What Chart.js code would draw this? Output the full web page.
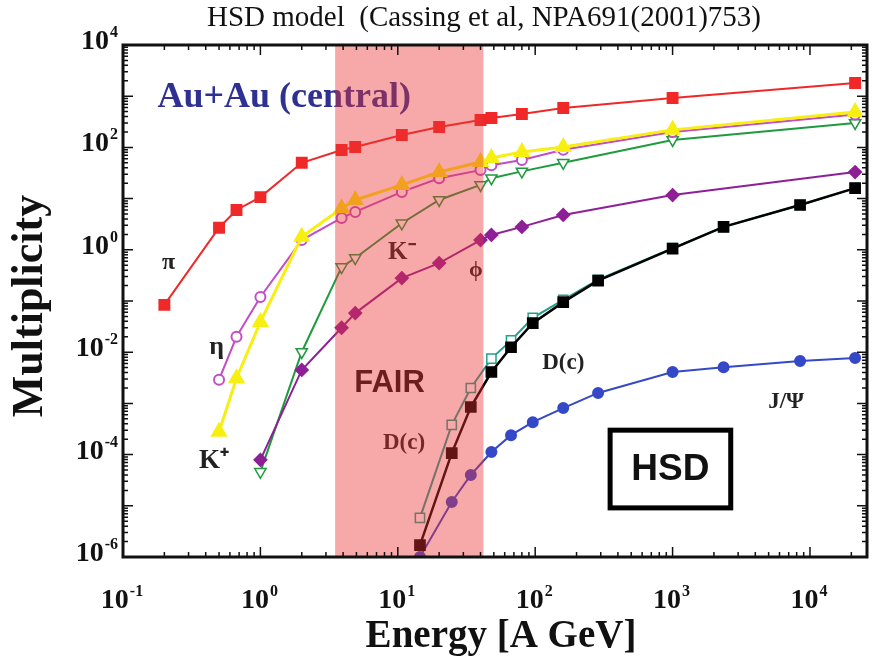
<!DOCTYPE html>
<html lang="en">
<head>
    <meta charset="UTF-8">
    <title>HSD model - Multiplicity vs Energy</title>
    <script src="https://cdn.jsdelivr.net/npm/chart.js"></script>
    <style>
        body { margin: 0; padding: 0; background: #fff; }
        canvas { display: block; }
    </style>
</head>
<body>
    <canvas id="grafico" width="877" height="660"></canvas>

    <script>
        // Datos (energia en A GeV, multiplicidad)
        const pionE = [0.2, 0.5, 0.67, 1, 2, 3.9, 4.9, 10.7, 20, 40, 48, 80, 160, 1000, 21300];
        const pionM = [0.084, 2.7, 6.0, 10.7, 50, 89, 102, 175, 250, 343, 375, 450, 590, 920, 1810];

        const kPlusE = [0.5, 0.67, 1, 2, 3.9, 4.9, 10.7, 20, 40, 48, 80, 160, 1000, 21300];
        const kPlusM = [2.8e-4, 3.1e-3, 0.039, 1.8, 6.5, 9.4, 18.5, 33, 52, 62, 81, 102, 220, 490];

        const etaE = [0.5, 0.67, 1, 2, 3.9, 4.9, 10.7, 20, 40, 48, 80, 160, 1000, 21300];
        const etaM = [2.9e-3, 0.02, 0.12, 1.55, 4.2, 5.5, 13.5, 25, 36, 45, 57, 90, 200, 440];

        const kMinusE = [1, 2, 3.9, 4.9, 10.7, 20, 40, 48, 80, 160, 1000, 21300];
        const kMinusM = [4.6e-5, 0.0101, 0.46, 0.69, 3.3, 9.4, 18.5, 25, 34, 50, 140, 300];

        const phiE = [1, 2, 3.9, 4.9, 10.7, 20, 40, 48, 80, 160, 1000, 21300];
        const phiM = [7.9e-5, 4.5e-3, 0.030, 0.058, 0.28, 0.55, 1.55, 1.95, 2.8, 4.8, 11.7, 33];

        const charmE = [14.5, 24.7, 34, 48, 66.7, 96, 160, 287, 1000, 2350, 8470, 21300];
        const dOpenM = [5.8e-6, 3.8e-4, 2.0e-3, 7.5e-3, 0.017, 0.047, 0.105, 0.26, 1.08, 2.8, 7.5, 16];
        const dFullM = [1.7e-6, 1.07e-4, 8.5e-4, 4.1e-3, 0.0125, 0.037, 0.095, 0.25, 1.05, 2.8, 7.5, 16];
        const jpsiM = [1.0e-6, 1.19e-5, 4.0e-5, 1.12e-4, 2.4e-4, 4.3e-4, 8.1e-4, 1.6e-3, 4.1e-3, 5.1e-3, 6.7e-3, 7.7e-3];

        // Ticks: base 10 con exponente
        const xTickValues = [0.1, 1, 10, 100, 1000, 10000];
        const xTickExp = ["-1", "0", "1", "2", "3", "4"];
        const yTickValues = [1e-6, 1e-4, 1e-2, 1, 1e2, 1e4];
        const yTickExp = ["-6", "-4", "-2", "0", "2", "4"];

        // Region FAIR (A GeV)
        const fairRange = [3.5, 42];

        // Etiquetas dentro del grafico (coordenadas en unidades de datos)
        const etiquetas = [
            { text: "Au+Au (central)", x: 0.178, y: 950, font: "bold 36px 'Liberation Serif'", color: "#2e3192", align: "left" },
            { text: "π", x: 0.215, y: 0.55, font: "bold 24px 'Liberation Serif'", color: "#222" },
            { text: "η", x: 0.48, y: 0.0125, font: "bold 26px 'Liberation Serif'", color: "#222" },
            { text: "K⁺", x: 0.46, y: 7.5e-5, font: "bold 27px 'Liberation Serif'", color: "#222" },
            { text: "K⁻", x: 10.7, y: 0.9, font: "bold 25px 'Liberation Serif'", color: "#222" },
            { text: "ϕ", x: 37, y: 0.4, font: "bold 22px 'Liberation Serif'", color: "#222" },
            { text: "FAIR", x: 8.7, y: 2.5e-3, font: "bold 31px 'Liberation Sans'", color: "#111" },
            { text: "D(c)", x: 11.1, y: 1.7e-4, font: "bold 23px 'Liberation Serif'", color: "#222" },
            { text: "D(c)", x: 160, y: 6.2e-3, font: "bold 23px 'Liberation Serif'", color: "#222" },
            { text: "J/Ψ", x: 6700, y: 1.05e-3, font: "bold 23px 'Liberation Serif'", color: "#222" }
        ];

        function puntos(xs, ys) {
            return xs.map((x, i) => ({ x: x, y: ys[i] }));
        }

        // dibuja "10" con exponente pequeño
        function potencia(ctx, exp, x, y, anchor) {
            ctx.font = "bold 28px 'Liberation Serif'";
            const wb = ctx.measureText("10").width;
            ctx.font = "bold 16px 'Liberation Serif'";
            const we = ctx.measureText(exp).width;
            const total = wb + 1 + we;
            const x0 = anchor === "right" ? x - total : x - total / 2;
            ctx.textAlign = "left";
            ctx.textBaseline = "alphabetic";
            ctx.font = "bold 28px 'Liberation Serif'";
            ctx.fillText("10", x0, y);
            ctx.font = "bold 16px 'Liberation Serif'";
            ctx.fillText(exp, x0 + wb + 1, y - 12);
        }

        // Texto, ejes y region sombreada
        const anotaciones = {
            id: "anotaciones",
            afterDatasetsDraw(chart) {
                const ctx = chart.ctx;
                const xs = chart.scales.x, ys = chart.scales.y;
                const area = chart.chartArea;
                ctx.save();
                ctx.textBaseline = "middle";
                etiquetas.forEach(e => {
                    ctx.font = e.font;
                    ctx.fillStyle = e.color;
                    ctx.textAlign = e.align || "center";
                    ctx.fillText(e.text, xs.getPixelForValue(e.x), ys.getPixelForValue(e.y));
                });

                // Recuadro HSD
                const bx1 = xs.getPixelForValue(351), bx2 = xs.getPixelForValue(2650);
                const by1 = ys.getPixelForValue(3.0e-4), by2 = ys.getPixelForValue(9.1e-6);
                ctx.lineWidth = 5;
                ctx.strokeStyle = "#000";
                ctx.strokeRect(bx1, by1, bx2 - bx1, by2 - by1);
                ctx.font = "bold 37px 'Liberation Sans'";
                ctx.fillStyle = "#111";
                ctx.textAlign = "center";
                ctx.fillText("HSD", (bx1 + bx2) / 2, (by1 + by2) / 2 + 1);

                // Banda FAIR semitransparente
                const fx1 = xs.getPixelForValue(fairRange[0]);
                const fx2 = xs.getPixelForValue(fairRange[1]);
                ctx.fillStyle = "rgba(235, 50, 50, 0.42)";
                ctx.fillRect(fx1, area.top, fx2 - fx1, area.bottom - area.top);

                // Marco
                ctx.lineWidth = 3;
                ctx.strokeStyle = "#111";
                ctx.strokeRect(area.left, area.top, area.right - area.left, area.bottom - area.top);

                // Marcas hacia adentro
                ctx.lineWidth = 1.5;
                ctx.beginPath();
                for (let d = -1; d <= 4; d++) {
                    for (let k = 1; k <= 9; k++) {
                        const v = k * Math.pow(10, d);
                        if (v > xs.max) break;
                        const px = xs.getPixelForValue(v);
                        const len = k === 1 ? 10 : 5;
                        ctx.moveTo(px, area.bottom); ctx.lineTo(px, area.bottom - len);
                        ctx.moveTo(px, area.top); ctx.lineTo(px, area.top + len);
                    }
                }
                for (let d = -6; d <= 4; d++) {
                    for (let k = 1; k <= 9; k++) {
                        const v = k * Math.pow(10, d);
                        if (v > ys.max) break;
                        const py = ys.getPixelForValue(v);
                        const len = k === 1 ? 10 : 5;
                        ctx.moveTo(area.left, py); ctx.lineTo(area.left + len, py);
                        ctx.moveTo(area.right, py); ctx.lineTo(area.right - len, py);
                    }
                }
                ctx.stroke();

                // Etiquetas de los ejes
                ctx.fillStyle = "#111";
                xTickValues.forEach((v, i) => potencia(ctx, xTickExp[i], xs.getPixelForValue(v) - 1, 608, "center"));
                yTickValues.forEach((v, i) => potencia(ctx, yTickExp[i], area.left - 5, ys.getPixelForValue(v) + 4, "right"));

                // Titulos de los ejes
                ctx.textAlign = "center";
                ctx.textBaseline = "alphabetic";
                ctx.font = "bold 39px 'Liberation Serif'";
                ctx.fillText("Energy [A GeV]", 501, 647);
                ctx.save();
                ctx.translate(42, 306);
                ctx.rotate(-Math.PI / 2);
                ctx.font = "bold 44px 'Liberation Serif'";
                ctx.fillText("Multiplicity", 0, 0);
                ctx.restore();

                // Titulo
                ctx.font = "29px 'Liberation Serif'";
                ctx.textAlign = "center";
                ctx.fillText("HSD model  (Cassing et al, NPA691(2001)753)", 484, 26);
                ctx.restore();
            }
        };

        const ctx = document.getElementById("grafico").getContext("2d");

        new Chart(ctx, {
            type: "line",
            data: {
                datasets: [
                    {
                        label: "π",
                        order: 0,
                        data: puntos(pionE, pionM),
                        borderColor: "#f02828",
                        backgroundColor: "#f02828",
                        pointStyle: "rect",
                        pointRadius: 7,
                        borderWidth: 2
                    },
                    {
                        label: "K+",
                        order: 1,
                        data: puntos(kPlusE, kPlusM),
                        borderColor: "#f7ef12",
                        backgroundColor: "#f7ef12",
                        pointStyle: "triangle",
                        pointRadius: 7,
                        borderWidth: 3
                    },
                    {
                        label: "η",
                        order: 2,
                        data: puntos(etaE, etaM),
                        borderColor: "#c24ec6",
                        backgroundColor: "#ffffff",
                        pointBorderColor: "#c24ec6",
                        pointStyle: "circle",
                        pointRadius: 5,
                        pointBorderWidth: 2,
                        borderWidth: 2
                    },
                    {
                        label: "ϕ",
                        order: 3,
                        data: puntos(phiE, phiM),
                        borderColor: "#8e1f96",
                        backgroundColor: "#8e1f96",
                        pointStyle: "rectRot",
                        pointRadius: 6,
                        borderWidth: 2
                    },
                    {
                        label: "K-",
                        order: 4,
                        data: puntos(kMinusE, kMinusM),
                        borderColor: "#1f9a3e",
                        backgroundColor: "#ffffff",
                        pointBorderColor: "#1f9a3e",
                        pointStyle: "triangle",
                        rotation: 180,
                        pointRadius: 6.5,
                        pointBorderWidth: 1.5,
                        borderWidth: 2
                    },
                    {
                        label: "D (llenos)",
                        order: 5,
                        data: puntos(charmE, dFullM),
                        borderColor: "#000000",
                        backgroundColor: "#000000",
                        pointStyle: "rect",
                        pointRadius: 6.5,
                        borderWidth: 2.5
                    },
                    {
                        label: "D (abiertos)",
                        order: 6,
                        data: puntos(charmE, dOpenM),
                        borderColor: "#22a08c",
                        backgroundColor: "#ffffff",
                        pointBorderColor: "#22a08c",
                        pointStyle: "rect",
                        pointRadius: 6.5,
                        pointBorderWidth: 1.5,
                        borderWidth: 2
                    },
                    {
                        label: "J/Ψ",
                        order: 7,
                        data: puntos(charmE, jpsiM),
                        borderColor: "#3448c8",
                        backgroundColor: "#3448c8",
                        pointStyle: "circle",
                        pointRadius: 5,
                        borderWidth: 2
                    }
                ]
            },
            options: {
                responsive: false,
                animation: false,
                layout: { padding: { top: 45, right: 3, left: 0, bottom: 0 } },
                plugins: {
                    legend: { display: false },
                    tooltip: { enabled: false }
                },
                scales: {
                    x: {
                        type: "logarithmic",
                        min: 0.1,
                        max: 26000,
                        grid: { display: false, drawTicks: false },
                        border: { display: false },
                        afterBuildTicks: s => { s.ticks = xTickValues.map(v => ({ value: v })); },
                        afterFit: s => { s.height = 103; },
                        ticks: { display: false }
                    },
                    y: {
                        type: "logarithmic",
                        min: 1e-6,
                        max: 1e4,
                        grid: { display: false, drawTicks: false },
                        border: { display: false },
                        afterBuildTicks: s => { s.ticks = yTickValues.map(v => ({ value: v })); },
                        afterFit: s => { s.width = 123; },
                        ticks: { display: false }
                    }
                }
            },
            plugins: [anotaciones]
        });
    </script>
</body>
</html>
